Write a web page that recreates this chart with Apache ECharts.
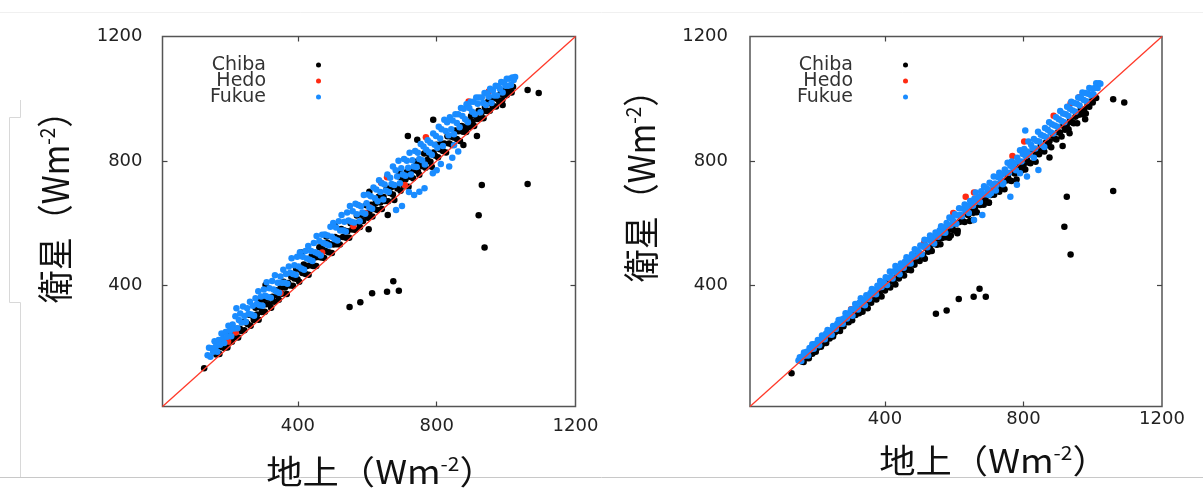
<!DOCTYPE html>
<html>
<head>
<meta charset="utf-8">
<script src="https://cdn.jsdelivr.net/npm/echarts@6/dist/echarts.min.js"></script>
<style>
html,body{margin:0;padding:0;background:#fff;}
#chart{width:1203px;height:488px;}
</style>
</head>
<body>
<div id="chart"></div>
<script>
// ---- data ----
const seriesNames = ['Chiba', 'Hedo', 'Fukue'];
const axisLabelValues = [400, 800, 1200];
const axisTickValues = [400, 800];
const axisMin = 10;
const axisMax = 1200;
const diagonal = [[10, 10], [1200, 1200]];

const leftChiba = [
[130,133],[165,177],[170,200],[174,179],[179,201],[183,218],[188,198],[192,218],[197,200],[201,219],[206,238],[210,218],[215,239],[219,233],[224,260],[228,232],[233,260],[237,253],[242,282],[246,255],[251,281],[255,275],[260,305],[264,270],[269,302],[273,288],[278,328],[282,306],[287,289],[291,329],[296,314],[300,355],[305,315],[309,339],[314,358],[318,339],[323,328],[327,363],[332,347],[336,384],[341,368],[345,353],[350,390],[354,373],[359,411],[363,393],[368,372],[372,407],[377,399],[381,427],[386,398],[390,422],[395,453],[399,419],[404,411],[408,449],[413,439],[417,467],[422,436],[426,462],[431,434],[435,464],[440,495],[444,462],[449,489],[453,462],[458,491],[462,522],[467,489],[471,516],[476,488],[480,510],[485,537],[489,506],[494,532],[498,504],[503,531],[507,555],[512,532],[516,551],[521,531],[525,581],[530,555],[534,576],[539,553],[543,574],[548,553],[552,599],[557,579],[561,599],[566,578],[570,624],[575,602],[579,587],[584,627],[588,607],[593,627],[597,657],[602,617],[606,636],[611,659],[615,621],[620,645],[624,664],[629,642],[633,685],[638,666],[642,645],[647,684],[651,671],[656,711],[660,670],[665,697],[669,715],[674,692],[678,674],[683,718],[687,711],[692,750],[696,704],[701,741],[705,721],[710,740],[714,764],[719,717],[723,749],[728,772],[732,744],[737,771],[741,797],[746,766],[750,755],[755,793],[759,783],[764,824],[768,778],[773,803],[777,822],[782,797],[786,781],[791,827],[795,817],[800,852],[804,812],[809,837],[813,855],[818,832],[822,856],[827,827],[831,879],[836,856],[840,878],[845,851],[849,875],[854,898],[858,870],[863,895],[867,864],[872,912],[876,894],[881,909],[885,893],[890,926],[894,909],[899,944],[903,925],[908,912],[912,944],[917,935],[921,961],[926,936],[930,956],[935,937],[939,973],[944,960],[948,990],[953,961],[957,985],[962,976],[966,1002],[971,975],[975,999],[980,992],[984,1016],[989,995],[993,1013],[998,1026],[1002,1012],[1007,1029],[1011,1025],[1016,1020],[1020,1038],
[290,350],[307,401],[410,505],[482,557],[506,594],[604,580],[606,701],[659,626],[693,762],[717,880],[744,868],[790,932],[877,851],[916,880],[951,1002],[990,980],
[549,330],[580,345],[614,374],[657,379],[675,413],[691,382],[921,625],[930,722],[938,521],[1062,726],[1062,1028],[1094,1018]
];
const leftHedo = [
[199,219],[221,248],[350,375],[470,505],[560,590],[594,632],[608,650],[640,730],[657,747],[708,722],[769,876],[892,991],[950,1023]
];
const leftFukue = [
[140,175],[144,199],[148,170],[152,197],[156,186],[160,220],[164,204],[168,186],[172,224],[176,209],[180,245],[184,228],[188,214],[192,250],[196,234],[200,270],[204,254],[208,236],[212,274],[216,261],[220,300],[223,326],[226,262],[230,288],[234,309],[238,280],[242,332],[246,301],[250,282],[254,326],[258,308],[262,347],[266,306],[270,334],[274,302],[278,358],[282,340],[286,381],[290,336],[294,364],[298,334],[302,386],[306,366],[310,410],[314,362],[318,390],[322,360],[326,414],[330,386],[334,432],[338,380],[342,408],[346,376],[350,428],[354,408],[358,450],[362,408],[366,436],[370,405],[374,460],[378,440],[382,487],[386,436],[390,464],[394,434],[398,492],[402,460],[406,506],[410,454],[414,492],[418,450],[422,510],[426,486],[430,526],[434,482],[438,510],[442,478],[446,536],[450,506],[454,558],[458,502],[462,542],[466,496],[470,562],[474,536],[478,563],[482,532],[486,560],[490,528],[494,588],[498,556],[502,600],[506,548],[510,586],[514,544],[518,606],[522,576],[526,626],[530,576],[534,604],[538,573],[542,634],[546,608],[550,655],[554,604],[558,638],[562,602],[566,662],[570,628],[574,658],[578,606],[582,654],[586,634],[590,690],[594,630],[598,664],[602,692],[606,650],[610,686],[614,646],[618,714],[622,680],[626,708],[630,670],[634,738],[638,700],[642,728],[646,676],[650,724],[654,704],[658,756],[662,700],[666,746],[670,726],[674,782],[678,722],[682,770],[686,750],[690,800],[694,728],[698,776],[702,756],[706,806],[710,752],[714,800],[718,778],[722,826],[726,756],[730,802],[734,782],[738,832],[742,780],[746,826],[750,806],[754,854],[758,802],[762,846],[766,788],[770,836],[774,866],[778,828],[782,858],[786,820],[790,888],[794,852],[798,880],[802,842],[806,910],[810,872],[814,902],[818,848],[822,932],[826,896],[830,924],[834,882],[838,940],[842,902],[846,930],[850,886],[854,950],[858,922],[862,950],[866,908],[870,970],[874,944],[878,968],[882,934],[886,982],[890,924],[894,970],[898,990],[902,958],[906,990],[910,950],[914,1004],[918,984],[922,1004],[926,956],[930,1004],[934,986],[938,1018],[942,980],[946,1016],[950,1006],[954,1032],[958,986],[962,1026],[966,1010],[970,1042],[974,1010],[978,1040],[982,1032],[986,1054],[990,1020],[994,1052],[998,1042],[1002,1064],[1006,1042],[1010,1064],[1014,1044],[1018,1068],[1022,1060],[1026,1070],
[683,642],[700,655],[720,700],[735,690],[750,701],[765,712],[789,760],[800,770],[812,790],[836,782],[845,810],[850,850],[862,830]
];

const rightChiba = [
[130,117],[160,155],[165,153],[170,172],[175,166],[180,165],[185,182],[190,180],[195,199],[200,186],[205,199],[210,209],[215,202],[220,212],[225,228],[230,214],[235,230],[240,229],[245,243],[250,235],[255,248],[260,260],[265,255],[270,253],[275,271],[280,268],[285,287],[290,282],[295,281],[300,297],[305,287],[310,304],[315,304],[320,321],[325,310],[330,323],[335,315],[340,338],[345,333],[350,326],[355,350],[360,344],[365,368],[370,361],[375,354],[380,379],[385,372],[390,364],[395,389],[400,383],[405,407],[410,400],[415,393],[420,416],[425,411],[430,402],[435,428],[440,422],[445,445],[450,439],[455,431],[460,457],[465,450],[470,462],[475,448],[480,479],[485,466],[490,480],[495,498],[500,478],[505,499],[510,496],[515,485],[520,518],[525,508],[530,521],[535,510],[540,541],[545,533],[550,530],[555,550],[560,532],[565,552],[570,567],[575,554],[580,571],[585,553],[590,589],[595,579],[600,576],[605,598],[610,575],[615,603],[620,618],[625,606],[630,603],[635,629],[640,626],[645,607],[650,646],[655,633],[660,650],[665,635],[670,671],[675,658],[680,672],[685,659],[690,678],[695,692],[700,666],[705,690],[710,704],[715,691],[720,709],[725,723],[730,701],[735,717],[740,732],[745,709],[750,737],[755,751],[760,738],[765,735],[770,763],[775,759],[780,740],[785,775],[790,789],[795,770],[800,786],[805,772],[810,804],[815,795],[820,792],[825,822],[830,815],[835,797],[840,831],[845,821],[850,850],[855,838],[860,830],[865,859],[870,850],[875,863],[880,844],[885,881],[890,872],[895,869],[900,892],[905,891],[910,878],[915,913],[920,900],[925,915],[930,902],[935,930],[940,924],[945,921],[950,942],[955,921],[960,948],[965,963],[970,950],[975,965],[980,952],[985,979],[990,974],[995,991],[1000,988],[1005,1003],[1010,1002],
[913,848],[875,811],[978,934],[933,889],[609,567],[590,560],[655,610],[700,665],
[547,308],[578,319],[613,356],[656,363],[673,389],[691,363],[918,588],[925,685],[936,499],[1059,703],[1059,998],[1091,988]
];
const rightHedo = [
[218,226],[302,323],[513,537],[597,632],[633,685],[657,698],[705,705],[768,816],[802,862],[887,945],[936,985],[961,1005]
];
const rightFukue = [
[150,158],[154,168],[158,156],[162,172],[166,184],[170,174],[174,186],[178,174],[182,198],[186,194],[190,210],[194,196],[198,211],[202,208],[206,224],[210,207],[214,225],[218,238],[222,229],[226,226],[230,245],[234,256],[238,242],[242,254],[246,241],[250,269],[254,263],[258,259],[262,276],[266,288],[270,276],[274,290],[278,276],[282,294],[286,310],[290,293],[294,309],[298,306],[302,322],[306,302],[310,323],[314,340],[318,327],[322,322],[326,344],[330,358],[334,339],[338,352],[342,336],[346,368],[350,360],[354,356],[358,375],[362,388],[366,372],[370,385],[374,371],[378,398],[382,393],[386,414],[390,394],[394,410],[398,406],[402,426],[406,401],[410,423],[414,444],[418,427],[422,422],[426,445],[430,462],[434,440],[438,453],[442,435],[446,470],[450,462],[454,456],[458,476],[462,490],[466,471],[470,486],[474,470],[478,500],[482,492],[486,516],[490,493],[494,511],[498,506],[502,528],[506,500],[510,524],[514,546],[518,527],[522,522],[526,546],[530,560],[534,540],[538,554],[542,534],[546,570],[550,562],[554,556],[558,577],[562,590],[566,570],[570,585],[574,569],[578,600],[582,592],[586,618],[590,593],[594,612],[598,606],[602,628],[606,598],[610,624],[614,648],[618,627],[622,622],[626,646],[630,660],[634,639],[638,654],[642,632],[646,671],[650,662],[654,656],[658,678],[662,698],[666,671],[670,685],[674,668],[678,702],[682,692],[686,718],[690,693],[694,712],[698,706],[702,730],[706,696],[710,724],[714,750],[718,727],[722,722],[726,748],[730,762],[734,740],[738,756],[742,730],[746,772],[750,762],[754,794],[758,762],[762,784],[766,798],[770,778],[774,792],[778,770],[782,810],[786,798],[790,834],[794,798],[798,822],[802,838],[806,816],[810,830],[814,862],[818,820],[822,852],[826,840],[830,870],[834,840],[838,864],[842,894],[846,862],[850,884],[854,850],[858,880],[862,906],[866,876],[870,900],[874,924],[878,892],[882,918],[886,888],[890,914],[894,940],[898,910],[902,934],[906,960],[910,928],[914,952],[918,924],[922,950],[926,974],[930,944],[934,968],[938,990],[942,962],[946,986],[950,958],[954,984],[958,1004],[962,978],[966,1002],[970,1020],[974,996],[978,1018],[982,992],[986,1016],[990,1034],[994,1012],[998,1032],[1002,1014],[1006,1034],[1010,1050],[1014,1034],[1018,1050],[1022,1048],
[657,610],[681,626],[762,685],[781,723],[810,750],[843,771],[805,898],[700,690],[720,705],[740,725],[790,760],[830,810],[860,845]
];

// ---- styling ----
const colors = { Chiba: '#000000', Hedo: '#ff2a12', Fukue: '#1a8cff' };
const tickFont = 'DejaVu Sans';
const cjkFont = 'Noto Sans CJK JP';
const plainNumber = function (v) { return String(v); };

function makeX(gridIndex, position, labelMargin) {
  return {
    gridIndex: gridIndex, type: 'value', position: position,
    min: axisMin, max: axisMax,
    axisLine: { show: false },
    splitLine: { show: false },
    axisTick: { show: true, inside: true, length: 5, customValues: axisTickValues,
                lineStyle: { color: '#444', width: 1.2 } },
    axisLabel: position === 'bottom'
      ? { show: true, customValues: axisLabelValues, margin: labelMargin, formatter: plainNumber,
          fontSize: 18, fontFamily: tickFont, color: '#222' }
      : { show: false }
  };
}
function makeY(gridIndex, position, labelMargin) {
  return {
    gridIndex: gridIndex, type: 'value', position: position,
    min: axisMin, max: axisMax,
    axisLine: { show: false },
    splitLine: { show: false },
    axisTick: { show: true, inside: true, length: 5, customValues: axisTickValues,
                lineStyle: { color: '#444', width: 1.2 } },
    axisLabel: position === 'left'
      ? { show: true, customValues: axisLabelValues, margin: labelMargin, formatter: plainNumber,
          fontSize: 18, fontFamily: tickFont, color: '#222' }
      : { show: false }
  };
}
function scatter(name, data, axisIdx) {
  return {
    type: 'scatter', name: name, data: data,
    xAxisIndex: axisIdx, yAxisIndex: axisIdx,
    symbol: 'circle', symbolSize: 6.5,
    itemStyle: { color: colors[name], opacity: 1 },
    silent: true, z: 2
  };
}
function diagLine(axisIdx) {
  return {
    type: 'line', name: 'diag', data: diagonal,
    xAxisIndex: axisIdx, yAxisIndex: axisIdx,
    symbol: 'none', silent: true, z: 5,
    lineStyle: { color: '#ff3a2a', width: 1.3 }
  };
}
function makeLegend(left) {
  return {
    data: seriesNames, orient: 'vertical', left: left, top: 55.5,
    padding: 0, itemGap: -3, itemWidth: 5, itemHeight: 5, icon: 'circle',
    align: 'right', selectedMode: false,
    formatter: function (n) { return '{t|' + n + '}'; },
    textStyle: {
      rich: { t: { width: 70, align: 'right', padding: [0, 45, 0, 0],
                   fontSize: 19, lineHeight: 15, fontFamily: tickFont, color: '#333' } }
    }
  };
}
const titleRich = {
  a: { fontSize: 33, fontFamily: cjkFont, fill: '#111' },
  s: { fontSize: 19, fontFamily: cjkFont, fill: '#111', verticalAlign: 'top' }
};
function titleText(x, y, text, rotate) {
  return {
    type: 'text', x: x, y: y, rotation: rotate ? Math.PI / 2 : 0,
    scaleX: rotate ? 1 : 1.1, scaleY: rotate ? 1.1 : 1,
    style: { text: text, align: 'center', verticalAlign: 'middle', rich: titleRich }
  };
}

const chart = echarts.init(document.getElementById('chart'), null, { renderer: 'canvas' });
chart.setOption({
  animation: false,
  backgroundColor: '#ffffff',
  grid: [
    { left: 162.5, top: 36.5, width: 413, height: 370, show: true, borderColor: '#555', borderWidth: 1.5 },
    { left: 750, top: 36.5, width: 412, height: 370, show: true, borderColor: '#555', borderWidth: 1.5 }
  ],
  xAxis: [makeX(0, 'bottom', 11), makeX(0, 'top'), makeX(1, 'bottom', 4), makeX(1, 'top')],
  yAxis: [makeY(0, 'left', 20), makeY(0, 'right'), makeY(1, 'left', 22), makeY(1, 'right')],
  legend: [makeLegend(196), makeLegend(783)],
  series: [
    scatter('Chiba', leftChiba, 0),
    scatter('Hedo', leftHedo, 0),
    scatter('Fukue', leftFukue, 0),
    diagLine(0),
    scatter('Chiba', rightChiba, 2),
    scatter('Hedo', rightHedo, 2),
    scatter('Fukue', rightFukue, 2),
    diagLine(2)
  ],
  graphic: [
    { type: 'line', shape: { x1: 0, y1: 477.5, x2: 1203, y2: 477.5 }, style: { stroke: '#c8c8c8', lineWidth: 1 }, silent: true },
    { type: 'line', shape: { x1: 0, y1: 12.5, x2: 1203, y2: 12.5 }, style: { stroke: '#f0f0f0', lineWidth: 1 }, silent: true },
    { type: 'polyline', shape: { points: [[20.5, 100], [20.5, 117.5], [9.5, 117.5], [9.5, 302.5], [20.5, 302.5], [20.5, 477]] },
      style: { stroke: '#d8d8d8', lineWidth: 1, fill: null }, silent: true },
    titleText(55, 199, '{a|衛星（Wm}{s|-2}{a|）}', true),
    titleText(641, 178, '{a|衛星（Wm}{s|-2}{a|）}', true),
    titleText(381, 471, '{a|地上（Wm}{s|-2}{a|）}', false),
    titleText(994, 460, '{a|地上（Wm}{s|-2}{a|）}', false)
  ]
});
</script>
</body>
</html>
